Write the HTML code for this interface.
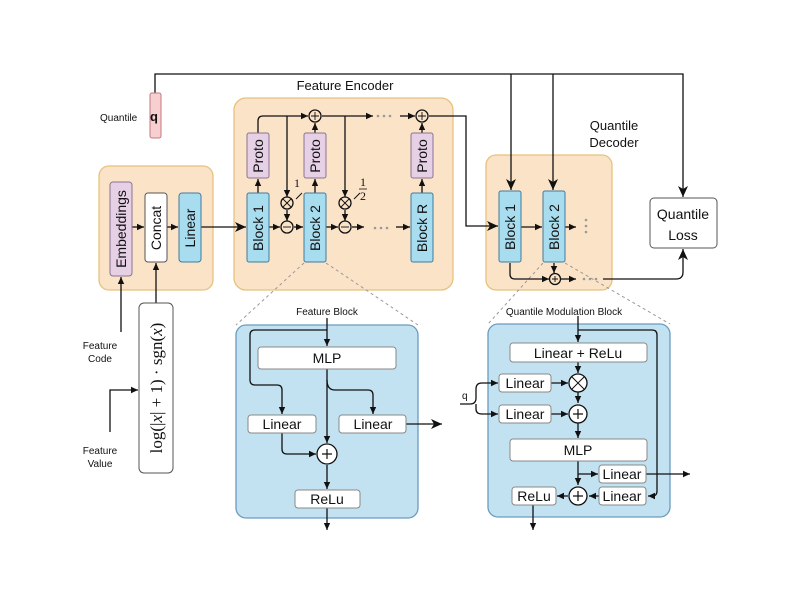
<!DOCTYPE html>
<html><head><meta charset="utf-8"><style>
html,body{margin:0;padding:0;background:#fff;}
svg{display:block;font-family:"Liberation Sans",sans-serif;}
</style></head><body>
<svg width="800" height="600" viewBox="0 0 800 600" xmlns="http://www.w3.org/2000/svg">
<defs>
<marker id="a" markerWidth="8" markerHeight="8" refX="7" refY="4" orient="auto" markerUnits="userSpaceOnUse"><path d="M0,0.8 L7,4 L0,7.2 Z" fill="#111"/></marker>
<marker id="b" markerWidth="12" markerHeight="12" refX="11" refY="6" orient="auto" markerUnits="userSpaceOnUse"><path d="M0,1 L11,6 L0,11 L3,6 Z" fill="#111"/></marker>
</defs>
<g stroke="#111" stroke-width="1.3" fill="none">
<!-- containers -->
<rect x="99" y="166" width="114" height="124" rx="10" fill="#fbe3c8" stroke="#e6c27c"/>
<rect x="234" y="98" width="219" height="192" rx="12" fill="#fbe3c8" stroke="#e6c27c"/>
<rect x="486" y="155" width="126" height="135" rx="10" fill="#fbe3c8" stroke="#e6c27c"/>
<rect x="236" y="325" width="182" height="193" rx="10" fill="#c2e2f1" stroke="#6a9cbf"/>
<rect x="488" y="324" width="182" height="193" rx="10" fill="#c2e2f1" stroke="#6a9cbf"/>
<!-- dashed -->
<g stroke="#999" stroke-dasharray="3,3" stroke-width="1">
<line x1="304" y1="263" x2="236" y2="325"/><line x1="326" y1="263" x2="418" y2="325"/>
<line x1="543" y1="263" x2="488" y2="324"/><line x1="565" y1="263" x2="670" y2="324"/>
</g>
<!-- q line -->
<path d="M155,93 V74 H683 V197" marker-end="url(#b)"/>
<path d="M511,74 V190" marker-end="url(#b)"/>
<path d="M553,74 V190" marker-end="url(#b)"/>
<!-- left chain -->
<path d="M132,227 H144" marker-end="url(#a)"/>
<path d="M167,227 H178" marker-end="url(#a)"/>
<path d="M201,227 H246" marker-end="url(#b)"/>
<path d="M121,332 V277" marker-end="url(#a)"/>
<path d="M156,303 V263" marker-end="url(#a)"/>
<path d="M110,432 V390 H138" marker-end="url(#a)"/>
<!-- encoder -->
<path d="M258,193 V179" marker-end="url(#a)"/>
<path d="M315,193 V179" marker-end="url(#a)"/>
<path d="M422,193 V179" marker-end="url(#a)"/>
<path d="M315,133 V123" marker-end="url(#a)"/>
<path d="M422,133 V123" marker-end="url(#a)"/>
<path d="M258,133 V121 Q258,116 263,116 H308" marker-end="url(#a)"/>
<path d="M322,116 H373" marker-end="url(#a)"/>
<path d="M400,116 H415" marker-end="url(#a)"/>
<path d="M429,116 H466 V226 H498" marker-end="url(#b)"/>
<path d="M287,116 V197" marker-end="url(#a)"/>
<path d="M345,116 V197" marker-end="url(#a)"/>
<path d="M287,210 V221" marker-end="url(#a)"/>
<path d="M345,210 V221" marker-end="url(#a)"/>
<path d="M269,227 H280" marker-end="url(#a)"/>
<path d="M294,227 H303" marker-end="url(#a)"/>
<path d="M326,227 H338" marker-end="url(#a)"/>
<path d="M352,227 H364" marker-end="url(#a)"/>
<path d="M396,227 H410" marker-end="url(#a)"/>
<path d="M296,199 L302,193" stroke-width="1"/>
<path d="M354,199 L360,193" stroke-width="1"/>
<circle cx="287" cy="203" r="6" fill="#fbe3c8"/><path d="M283,199 L291,207 M291,199 L283,207" stroke-width="0.9"/>
<circle cx="345" cy="203" r="6" fill="#fbe3c8"/><path d="M341,199 L349,207 M349,199 L341,207" stroke-width="0.9"/>
<circle cx="287" cy="227" r="6" fill="#fbe3c8"/><path d="M283,227 H291" stroke-width="0.9"/>
<circle cx="345" cy="227" r="6" fill="#fbe3c8"/><path d="M341,227 H349" stroke-width="0.9"/>
<circle cx="315" cy="116" r="6" fill="#fbe3c8"/><path d="M311,116 H319 M315,112 V120" stroke-width="0.9"/>
<circle cx="422" cy="116" r="6" fill="#fbe3c8"/><path d="M418,116 H426 M422,112 V120" stroke-width="0.9"/>
<!-- decoder -->
<path d="M521,227 H542" marker-end="url(#a)"/>
<path d="M565,227 H576" marker-end="url(#a)"/>
<path d="M510,263 V274 Q510,279 515,279 H549" marker-end="url(#a)"/>
<path d="M554,263 V273" marker-end="url(#a)"/>
<path d="M561,279 H576" marker-end="url(#a)"/>
<path d="M603,279 H676 Q683,279 683,272 V249" marker-end="url(#b)"/>
<circle cx="555" cy="279" r="5.5" fill="#fbe3c8"/><path d="M552,279 H558 M555,276 V282" stroke-width="0.9"/>
<!-- feature block -->
<path d="M327,318 V346" marker-end="url(#a)"/>
<path d="M327,330 H255 Q250,330 250,335 V380 Q250,385 255,385 H277 Q282,385 282,390 V414" marker-end="url(#a)"/>
<path d="M327,369 V443" marker-end="url(#a)"/>
<path d="M327,380 Q327,390 335,390 H368 Q373,390 373,395 V414" marker-end="url(#a)"/>
<path d="M406,424 H442" marker-end="url(#b)"/>
<path d="M282,433 V449 Q282,454 287,454 H316" marker-end="url(#a)"/>
<path d="M327,465 V489" marker-end="url(#a)"/>
<path d="M327,508 V530" marker-end="url(#a)"/>
<circle cx="327" cy="454" r="10" fill="#fff"/><path d="M322,454 H332 M327,449 V459" stroke-width="1.2"/>
<!-- QMB -->
<path d="M578,316 V342" marker-end="url(#a)"/>
<path d="M578,330 H652 Q657,330 657,335 V491 Q657,496 652,496 H648" marker-end="url(#a)"/>
<path d="M578,362 V373" marker-end="url(#a)"/>
<path d="M551,383 H568" marker-end="url(#a)"/>
<path d="M578,392 V403" marker-end="url(#a)"/>
<path d="M551,414 H568" marker-end="url(#a)"/>
<path d="M578,423 V438" marker-end="url(#a)"/>
<path d="M578,461 V485" marker-end="url(#a)"/>
<path d="M578,474 H598" marker-end="url(#a)"/>
<path d="M646,474 H690" marker-end="url(#a)"/>
<path d="M599,496 H589" marker-end="url(#a)"/>
<path d="M568,496 H557" marker-end="url(#a)"/>
<path d="M533,505 V530" marker-end="url(#a)"/>
<path d="M460,404 H470 Q476,404 476,398 V389 Q476,383 482,383 H498" marker-end="url(#a)"/>
<path d="M476,404 V409 Q476,414 482,414 H498" marker-end="url(#a)"/>
<circle cx="578" cy="383" r="9" fill="#fff"/><path d="M572,377 L584,389 M584,377 L572,389" stroke-width="1"/>
<circle cx="578" cy="414" r="9" fill="#fff"/><path d="M573,414 H583 M578,409 V419" stroke-width="1.2"/>
<circle cx="578" cy="496" r="9" fill="#fff"/><path d="M573,496 H583 M578,491 V501" stroke-width="1.2"/>
</g>
<!-- boxes -->
<g stroke-width="1">
<rect x="150" y="93" width="11" height="45" rx="2" fill="#f7cfd0" stroke="#c07a7c"/>
<rect x="110" y="182" width="22" height="94" rx="3" fill="#e5d0e6" stroke="#8c7390"/>
<rect x="145" y="193" width="22" height="69" rx="3" fill="#fff" stroke="#555"/>
<rect x="179" y="193" width="22" height="69" rx="3" fill="#a8dcef" stroke="#3f7b9d"/>
<rect x="247" y="193" width="22" height="69" rx="2" fill="#a8dcef" stroke="#3f7b9d"/>
<rect x="304" y="193" width="22" height="69" rx="2" fill="#a8dcef" stroke="#3f7b9d"/>
<rect x="411" y="193" width="22" height="69" rx="2" fill="#a8dcef" stroke="#3f7b9d"/>
<rect x="247" y="133" width="22" height="45" rx="2" fill="#e5d0e6" stroke="#8c7390"/>
<rect x="304" y="133" width="22" height="45" rx="2" fill="#e5d0e6" stroke="#8c7390"/>
<rect x="411" y="133" width="22" height="45" rx="2" fill="#e5d0e6" stroke="#8c7390"/>
<rect x="499" y="191" width="22" height="71" rx="2" fill="#a8dcef" stroke="#3f7b9d"/>
<rect x="543" y="191" width="22" height="71" rx="2" fill="#a8dcef" stroke="#3f7b9d"/>
<rect x="650" y="198" width="67" height="50" rx="4" fill="#fff" stroke="#555"/>
<rect x="139" y="303" width="34" height="170" rx="5" fill="#fff" stroke="#555"/>
<rect x="258" y="347" width="138" height="22" rx="3" fill="#fff" stroke="#888"/>
<rect x="248" y="415" width="68" height="18" rx="3" fill="#fff" stroke="#888"/>
<rect x="339" y="415" width="67" height="18" rx="3" fill="#fff" stroke="#888"/>
<rect x="295" y="490" width="65" height="18" rx="3" fill="#fff" stroke="#888"/>
<rect x="510" y="343" width="137" height="19" rx="3" fill="#fff" stroke="#888"/>
<rect x="499" y="374" width="52" height="18" rx="3" fill="#fff" stroke="#888"/>
<rect x="499" y="405" width="52" height="18" rx="3" fill="#fff" stroke="#888"/>
<rect x="510" y="439" width="137" height="22" rx="3" fill="#fff" stroke="#888"/>
<rect x="599" y="465" width="47" height="18" rx="3" fill="#fff" stroke="#888"/>
<rect x="599" y="487" width="47" height="18" rx="3" fill="#fff" stroke="#888"/>
<rect x="512" y="487" width="44" height="18" rx="3" fill="#fff" stroke="#888"/>
</g>
<!-- dots -->
<g fill="#999">
<circle cx="378" cy="116" r="1.3"/><circle cx="384" cy="116" r="1.3"/><circle cx="390" cy="116" r="1.3"/>
<circle cx="375" cy="228" r="1.3"/><circle cx="381" cy="228" r="1.3"/><circle cx="387" cy="228" r="1.3"/>
<circle cx="586" cy="220" r="1.3"/><circle cx="586" cy="226" r="1.3"/><circle cx="586" cy="232" r="1.3"/>
<circle cx="584" cy="279" r="1.3"/><circle cx="590" cy="279" r="1.3"/><circle cx="596" cy="279" r="1.3"/>
</g>
<!-- text -->
<g fill="#111" font-size="13">
<text x="154" y="121" font-size="13" font-weight="bold" text-anchor="middle">q</text>
<text x="100" y="121" font-size="10">Quantile</text>
<text x="345" y="90" text-anchor="middle">Feature Encoder</text>
<text x="614" y="130" text-anchor="middle">Quantile</text>
<text x="614" y="147" text-anchor="middle">Decoder</text>
<text x="683" y="219" text-anchor="middle" font-size="14">Quantile</text>
<text x="683" y="240" text-anchor="middle" font-size="14">Loss</text>
<text x="100" y="349" font-size="10" text-anchor="middle">Feature</text>
<text x="100" y="362" font-size="10" text-anchor="middle">Code</text>
<text x="100" y="454" font-size="10" text-anchor="middle">Feature</text>
<text x="100" y="467" font-size="10" text-anchor="middle">Value</text>
<text x="327" y="315" font-size="10" text-anchor="middle">Feature Block</text>
<text x="564" y="315" font-size="10" text-anchor="middle">Quantile Modulation Block</text>
<text x="462" y="399" font-size="10">q</text>
<g font-size="14" text-anchor="middle">
<text transform="translate(126,229) rotate(-90)">Embeddings</text>
<text transform="translate(161,228) rotate(-90)">Concat</text>
<text transform="translate(195,228) rotate(-90)">Linear</text>
<text transform="translate(263,228) rotate(-90)">Block 1</text>
<text transform="translate(320,228) rotate(-90)">Block 2</text>
<text transform="translate(427,228) rotate(-90)">Block R</text>
<text transform="translate(263,156) rotate(-90)">Proto</text>
<text transform="translate(320,156) rotate(-90)">Proto</text>
<text transform="translate(427,156) rotate(-90)">Proto</text>
<text transform="translate(515,227) rotate(-90)">Block 1</text>
<text transform="translate(559,227) rotate(-90)">Block 2</text>
<text transform="translate(162,388) rotate(-90)" font-family="Liberation Serif,serif" font-size="17">log(|<tspan font-style="italic">x</tspan>| + 1) · sgn(<tspan font-style="italic">x</tspan>)</text>
<text x="327" y="363">MLP</text>
<text x="282" y="429">Linear</text>
<text x="373" y="429">Linear</text>
<text x="327" y="504">ReLu</text>
<text x="578" y="358">Linear + ReLu</text>
<text x="525" y="388">Linear</text>
<text x="525" y="419">Linear</text>
<text x="578" y="455">MLP</text>
<text x="622" y="479">Linear</text>
<text x="622" y="501">Linear</text>
<text x="534" y="501">ReLu</text>
</g>
<g font-family="Liberation Serif,serif" font-size="12">
<text x="294" y="187">1</text>
<text x="360" y="186">1</text><line x1="359" y1="189" x2="367" y2="189" stroke="#111" stroke-width="0.8"/><text x="360" y="200">2</text>
</g>
</g>
</svg>
</body></html>
